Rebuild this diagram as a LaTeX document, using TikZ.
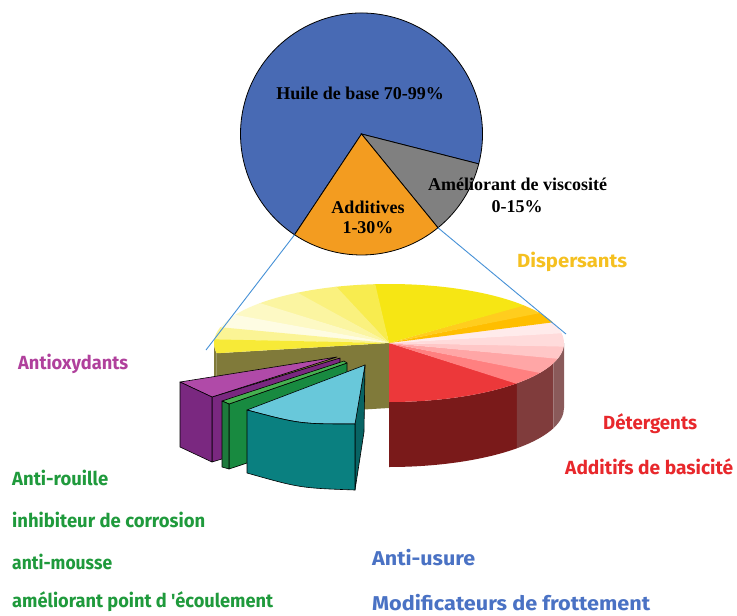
\documentclass[tikz,border=0pt]{standalone}
\usepackage{fontspec}
\usepackage{graphicx}
\setmainfont{Liberation Serif}
\newfontfamily\lblfont{Fira Sans}
\usetikzlibrary{calc}
\definecolor{pieblue}{RGB}{72,106,180}
\definecolor{pieorange}{RGB}{243,156,32}
\definecolor{piegray}{RGB}{128,128,128}
\definecolor{guide}{RGB}{70,145,215}
\definecolor{olive3d}{RGB}{128,122,58}
\definecolor{redtop}{RGB}{236,56,58}
\definecolor{redwall}{RGB}{122,26,26}
\definecolor{pinkwall}{RGB}{128,60,60}
\definecolor{pinkwallb}{RGB}{138,90,90}
\definecolor{ylw}{RGB}{246,230,20}
\definecolor{orgA}{RGB}{255,190,0}
\definecolor{orgB}{RGB}{255,205,30}
\definecolor{purtop}{RGB}{176,74,168}
\definecolor{purdark}{RGB}{122,40,128}
\definecolor{grntop}{RGB}{70,176,80}
\definecolor{grndark}{RGB}{30,122,60}
\definecolor{grnside}{RGB}{24,138,64}
\definecolor{teltop}{RGB}{104,200,218}
\definecolor{teldark}{RGB}{10,128,128}
\definecolor{teldarker}{RGB}{8,100,100}
\definecolor{cDisp}{RGB}{245,192,32}
\definecolor{cAnti}{RGB}{176,64,156}
\definecolor{cGreen}{RGB}{31,154,60}
\definecolor{cRed}{RGB}{232,40,44}
\definecolor{cBlue}{RGB}{74,114,196}
\newcommand\topslice[3]{\fill[#3] (P) -- ++(#1:175 and 59) arc[start angle=#1, end angle=#2, x radius=175, y radius=59] -- cycle;}
\newcommand\wallslice[3]{\fill[#3] ($(P)+(#1:175 and 59)$) arc[start angle=#1, end angle=#2, x radius=175, y radius=59] -- ++(0,65) arc[start angle=#2, end angle=#1, x radius=175, y radius=59] -- cycle;}
\newsavebox\lblbox
\newcommand\fitw[2]{\sbox\lblbox{#2}\pgfmathsetmacro\fitr{#1/\the\wd\lblbox}\scalebox{\fitr}[1]{\usebox\lblbox}}
\begin{document}
\begin{tikzpicture}[x=1pt,y=-1pt,
  serlbl/.style={font=\fontsize{18}{20}\selectfont\bfseries, inner sep=0pt, align=center},
  sanlbl/.style={font=\lblfont\fontsize{19}{21}\selectfont\bfseries, inner sep=0pt, anchor=west},
  bigsan/.style={sanlbl, font=\lblfont\fontsize{20}{22}\selectfont\bfseries},
  wedge/.style={draw=black, line width=0.6pt, line join=round},
  guideline/.style={draw=guide, line width=0.9pt}]
\useasboundingbox (0,0) rectangle (737,616);
\fill[white] (0,0) rectangle (737,616);
% ---- top pie ----
\coordinate (C) at (361.5,134);
\filldraw[fill=pieblue, draw=black, line width=0.8pt] (C) -- ++(14.3:121) arc[start angle=14.3, end angle=-236.4, radius=121] -- cycle;
\filldraw[fill=piegray, draw=black, line width=0.8pt] (C) -- ++(14.3:121) arc[start angle=14.3, end angle=50.8, radius=121] -- cycle;
\filldraw[fill=pieorange, draw=black, line width=0.8pt] (C) -- ++(50.8:121) arc[start angle=50.8, end angle=123.6, radius=121] -- cycle;
\node[serlbl] (huile) at (360,93) {Huile de base 70-99\%};
\node[serlbl] (addit) at (368,217) {Additives\\1-30\%};
\node[serlbl, anchor=west] (amel) at (428,184) {Améliorant de viscosité};
\node[serlbl] (visc) at (517,207) {0-15\%};
% guide lines
\coordinate (gl1) at ($(C)+(123.6:121)$);
\coordinate (gr1) at ($(C)+(50.8:121)$);
\coordinate (gl2) at (206,350);
\coordinate (gr2) at (566,334);
% ---- 3D pie ----
\coordinate (P) at (389,343);
% olive cut face
\fill[olive3d] (P) -- ++(-190:175 and 59) -- ++(0,65) -- ($(P)+(0,65)$) -- cycle;
\wallslice{-190}{-180}{olive3d}
% walls
\wallslice{43}{90}{redwall}
\wallslice{20}{43}{pinkwall}
\wallslice{0}{20}{pinkwallb}
% top slices
\topslice{43}{90}{redtop}
\topslice{30}{43.5}{red!50!white}
\topslice{15}{30.5}{red!35!white}
\topslice{3}{15.5}{red!22!white}
\topslice{-10}{3.5}{red!14!white}
\topslice{-21}{-9.5}{red!8!white}
\topslice{-31}{-20.5}{orgA}
\topslice{-40}{-30.5}{orgB}
\topslice{-95}{-39.5}{ylw}
\topslice{-108}{-94.5}{ylw!75!white}
\topslice{-122}{-107.5}{ylw!55!white}
\topslice{-138}{-121.5}{ylw!40!white}
\topslice{-152}{-137.5}{ylw!25!white}
\topslice{-165}{-151.5}{ylw!12!white}
\topslice{-177}{-164.5}{ylw!45!white}
\topslice{-190}{-176.5}{ylw!85!white}
\draw[guideline] (gl1) -- (gl2);
\draw[guideline] (gr1) -- (gr2);
% purple wedge
\filldraw[wedge, fill=purdark] (212,397) -- (340,358) -- (340,423) -- (212,462) -- cycle;
\filldraw[wedge, fill=purtop] (180,382) -- (337,357) -- (212,397) -- cycle;
\filldraw[wedge, fill=purdark] (180,382) -- (212,397) -- (212,462) -- (180,447) -- cycle;
% green wedge
\filldraw[wedge, fill=grnside] (229,404) -- (347,363) -- (347,430) -- (229,469) -- cycle;
\filldraw[wedge, fill=grntop] (222,401) -- (344,361) -- (347,363) -- (229,404) -- cycle;
\filldraw[wedge, fill=grndark] (222,401) -- (229,404) -- (229,469) -- (222,467) -- cycle;
% teal wedge
\filldraw[wedge, fill=teldarker] (355,423) -- (365,365) -- (364,432) -- (355,490) -- cycle;
\filldraw[wedge, fill=teltop] (247,410) -- (365,365) -- (355,424) .. controls (300,424) .. (247,410) -- cycle;
\filldraw[wedge, fill=teldark] (247,410) .. controls (300,424) .. (355,424) -- (355,490) .. controls (300,488) .. (247,473) -- cycle;
% ---- labels ----
\node[sanlbl, text=cDisp] (disp) at (517,262) {\fitw{110}{Dispersants}};
\node[sanlbl, text=cAnti] (antiox) at (18,364) {\fitw{110}{Antioxydants}};
\node[sanlbl, text=cGreen] (rouille) at (12,478) {\fitw{96}{Anti-rouille}};
\node[sanlbl, text=cGreen] (inhib) at (12,520) {\fitw{193}{inhibiteur de corrosion}};
\node[sanlbl, text=cGreen] (mousse) at (12,562) {\fitw{100}{anti-mousse}};
\node[sanlbl, text=cGreen] (ecoul) at (12,602) {\fitw{261}{améliorant point d 'écoulement}};
\node[sanlbl, text=cRed] (deterg) at (603,424) {\fitw{94}{Détergents}};
\node[sanlbl, text=cRed] (basic) at (565,467) {\fitw{168}{Additifs de basicité}};
\node[bigsan, text=cBlue] (usure) at (372,558) {\fitw{103}{Anti-usure}};
\node[bigsan, text=cBlue] (frott) at (372,603) {\fitw{278}{Modificateurs de frottement}};
\end{tikzpicture}
\end{document}
